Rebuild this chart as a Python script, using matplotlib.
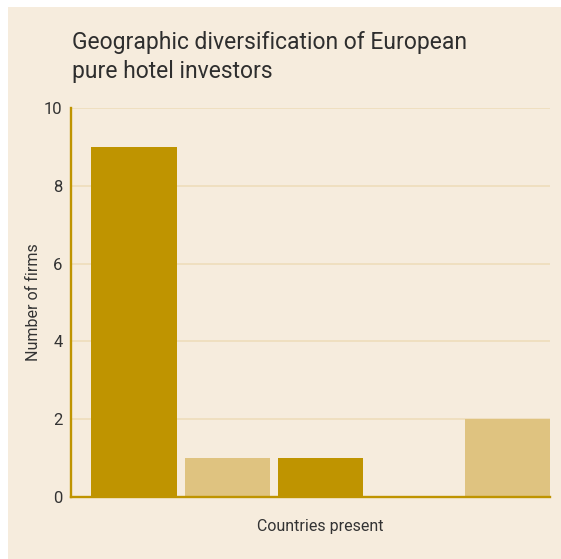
import numpy as np
import matplotlib.pyplot as plt
from matplotlib.patches import Rectangle

# data
categories = ["1", "2", "3", "4", "5+"]
firms = [9, 1, 1, 0, 2]
bar_colors = ["#BF9400", "#DFC380", "#BF9400", "#DFC380", "#DFC380"]

plt.rcParams['font.family'] = ['Roboto', 'DejaVu Sans']

W, H = 561, 559
fig = plt.figure(figsize=(W / 100, H / 100), dpi=100, facecolor="white")
# cream panel, with a thin white strip on the left and top
fig.patches.append(Rectangle((8 / W, 0), 1, 1 - 7 / H, transform=fig.transFigure,
                             facecolor="#F6ECDD", edgecolor="none", zorder=-10))

left, right = 71 / W, 550 / W
bottom, top = 1 - 497 / H, 1 - 108 / H
ax = fig.add_axes([left, bottom, right - left, top - bottom])
ax.set_zorder(2)
ax.set_facecolor("none")

x = np.arange(len(categories))
ax.bar(x, firms, width=0.915, color=bar_colors, zorder=3)
ax.set_xlim(-0.677, 4.457)
ax.set_ylim(0, 10)
ax.set_yticks([0, 2, 4, 6, 8, 10])
ax.set_xticks([])
ax.grid(axis="y", color="#EEDDBB", linewidth=1.2, zorder=0)

for s in ["top", "right"]:
    ax.spines[s].set_visible(False)
for s in ["left", "bottom"]:
    ax.spines[s].set_color("#BF9400")
    ax.spines[s].set_linewidth(1.7)
    ax.spines[s].set_zorder(4)

ax.tick_params(axis="y", length=0, pad=6, labelsize=12, labelcolor="#333333")
ax.set_ylabel("Number of firms", fontsize=11.5, color="#333333", labelpad=2)
ax.set_xlabel("Countries present", fontsize=11.5, color="#333333")
ax.xaxis.set_label_coords((320 - 71) / (550 - 71), -(527 - 497) / (497 - 108), transform=ax.transAxes)
ax.xaxis.label.set_va("center")

fig.text(72 / W, 1 - 57 / H, "Geographic diversification of European\npure hotel investors",
         fontsize=16.5, color="#2E2E2E", va="center", ha="left", linespacing=1.3)

fig.savefig("out.png", dpi=100, facecolor=fig.get_facecolor())
